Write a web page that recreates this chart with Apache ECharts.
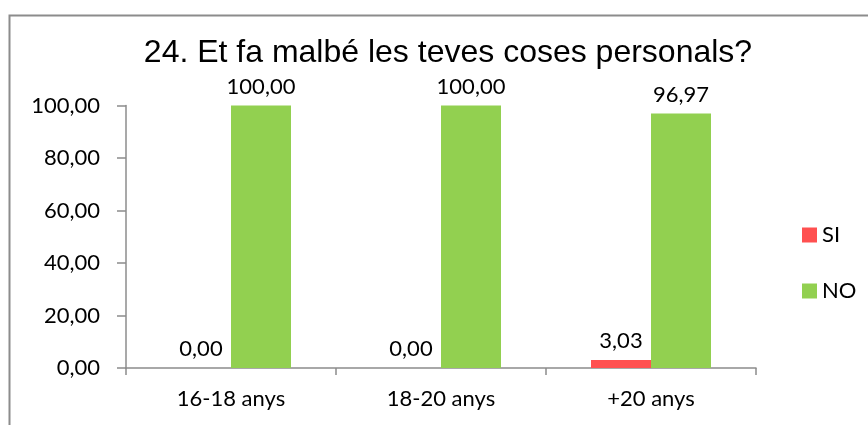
<!DOCTYPE html>
<html>
<head>
<meta charset="utf-8">
<script src="https://cdn.jsdelivr.net/npm/echarts@6/dist/echarts.min.js"></script>
<style>
html, body { margin: 0; padding: 0; background: #fff; }
#chart { width: 868px; height: 425px; }
</style>
</head>
<body>
<div id="chart"></div>
<script>
// dades del gràfic
var categories = ['16-18 anys', '18-20 anys', '+20 anys'];
var siValues = [0.00, 0.00, 3.03];
var noValues = [100.00, 100.00, 96.97];
var yTicks = [0, 20, 40, 60, 80, 100];

var labelFont = 'Lato, "Open Sans", sans-serif';
var labelSize = 22;

function fmt(v) {
	return Number(v).toFixed(2).replace('.', ',');
}

var chart = echarts.init(document.getElementById('chart'));
chart.setOption({
	animation: false,
	color: ['#FF5050', '#92D050'],
	graphic: [{
		type: 'rect',
		shape: { x: 9.5, y: 15.5, width: 900, height: 500 },
		style: { fill: 'none', stroke: '#8c8c8c', lineWidth: 2 }
	}],
	title: {
		text: '24. Et fa malbé les teves coses personals?',
		left: 443,
		textAlign: 'center',
		top: 32,
		textStyle: {
			fontFamily: '"Liberation Sans", Arial, sans-serif',
			fontSize: 32,
			fontWeight: 'normal',
			color: '#000'
		}
	},
	legend: {
		orient: 'vertical',
		left: 797,
		top: 219,
		itemWidth: 15,
		itemHeight: 15,
		itemGap: 34,
		icon: 'rect',
		textStyle: { fontFamily: labelFont, fontSize: labelSize, color: '#000' },
		data: ['SI', 'NO']
	},
	grid: {
		left: 126,
		right: 112,
		top: 105.5,
		bottom: 57,
		containLabel: false
	},
	xAxis: {
		type: 'category',
		data: categories,
		axisLine: { lineStyle: { color: '#8c8c8c', width: 1.5 } },
		axisTick: { show: true, length: 7, lineStyle: { color: '#8c8c8c', width: 1.5 } },
		axisLabel: { fontFamily: labelFont, fontSize: labelSize, color: '#000', margin: 20 }
	},
	yAxis: {
		type: 'value',
		min: yTicks[0],
		max: yTicks[yTicks.length - 1],
		interval: 20,
		axisLine: { show: true, lineStyle: { color: '#8c8c8c', width: 1.5 } },
		axisTick: { show: true, length: 9, lineStyle: { color: '#8c8c8c', width: 1.5 } },
		splitLine: { show: false },
		axisLabel: {
			fontFamily: labelFont, fontSize: labelSize, color: '#000', margin: 26,
			formatter: function (v) { return fmt(v); }
		}
	},
	series: [{
		name: 'SI',
		type: 'bar',
		data: siValues,
		barWidth: 60,
		barGap: '0%',
		label: {
			show: true, position: 'top', distance: 8,
			fontFamily: labelFont, fontSize: labelSize, color: '#000',
			formatter: function (p) { return fmt(p.value); }
		}
	}, {
		name: 'NO',
		type: 'bar',
		data: noValues,
		barWidth: 60,
		barGap: '0%',
		label: {
			show: true, position: 'top', distance: 8,
			fontFamily: labelFont, fontSize: labelSize, color: '#000',
			formatter: function (p) { return fmt(p.value); }
		}
	}]
});
</script>
</body>
</html>
